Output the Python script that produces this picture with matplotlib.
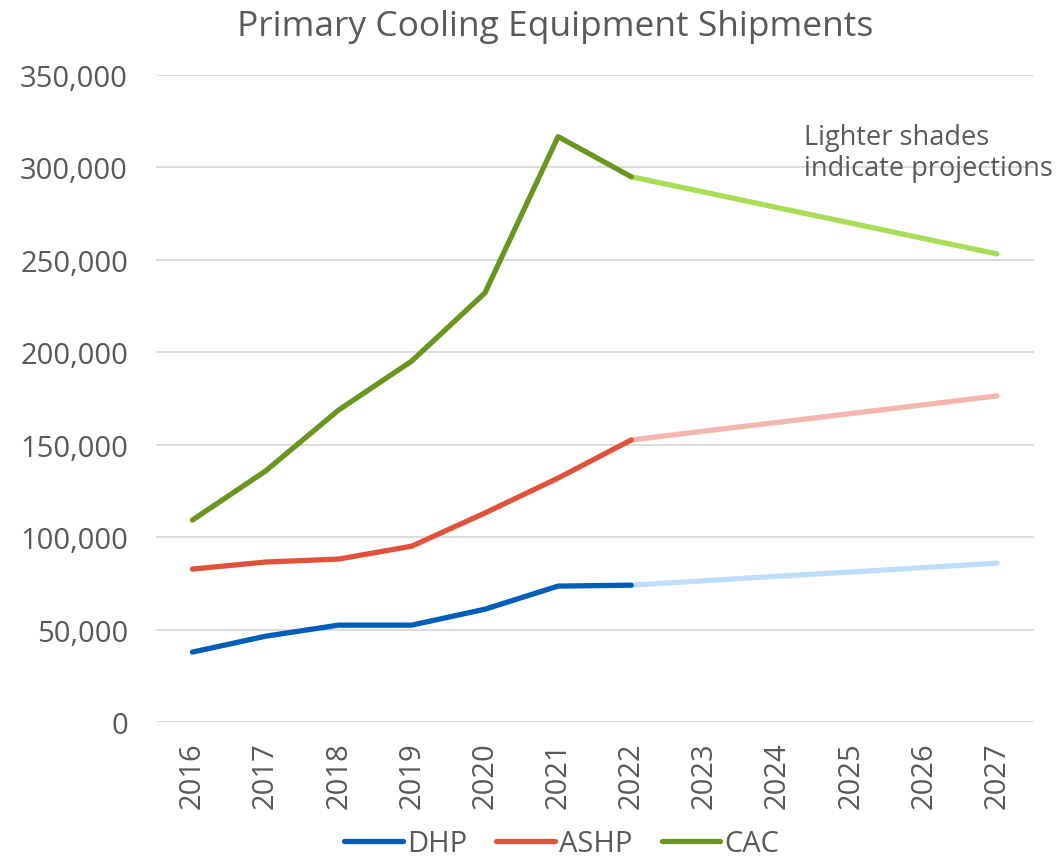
import matplotlib
matplotlib.use("Agg")
import matplotlib.pyplot as plt
from matplotlib.ticker import FuncFormatter

years = [2016, 2017, 2018, 2019, 2020, 2021, 2022, 2023, 2024, 2025, 2026, 2027]

dhp_actual = [37900, 46500, 52500, 52500, 61100, 73600, 74100]
ashp_actual = [82800, 86600, 88200, 95200, 113100, 132000, 152600]
cac_actual = [109300, 135800, 168800, 195300, 232100, 316600, 294900]

dhp_proj = [74100, 76500, 78900, 81200, 83600, 86000]
ashp_proj = [152600, 157400, 162100, 166900, 171600, 176400]
cac_proj = [294900, 286600, 278200, 269900, 261500, 253200]

series = ["DHP", "ASHP", "CAC"]
dark = ["#005EB8", "#E0533A", "#6A951F"]
light = ["#BEDDFB", "#F3B7AD", "#A9DD55"]

plt.rcParams['font.family'] = ['Open Sans', 'DejaVu Sans']
txt = "#595959"

fig = plt.figure(figsize=(10.6, 8.62), dpi=100)
ax = fig.add_axes([0.147, 0.161, 0.828, 0.751])

xs = list(range(len(years)))
ia = xs[:7]
ip = xs[6:]
lw = 3.8
for name, a, p, dc, lc in zip(series, [dhp_actual, ashp_actual, cac_actual],
                               [dhp_proj, ashp_proj, cac_proj], dark, light):
    ax.plot(ip, p, color=lc, lw=lw, solid_capstyle='round', solid_joinstyle='round', zorder=2)
    ax.plot(ia, a, color=dc, lw=lw, solid_capstyle='round', solid_joinstyle='round', zorder=3, label=name)

ax.set_xlim(-0.5, len(years) - 0.5)
ax.set_ylim(0, 350000)
ax.set_yticks(range(0, 350001, 50000))
ax.yaxis.set_major_formatter(FuncFormatter(lambda v, p: f"{int(v):,}"))
ax.set_xticks(xs)
ax.set_xticklabels([str(y) for y in years], rotation=90)
ax.grid(axis='y', color='#D9D9D9', lw=1.3)
ax.set_axisbelow(True)
for s in ax.spines.values():
    s.set_visible(False)
ax.tick_params(axis='both', length=0, colors=txt, labelsize=21)
ax.tick_params(axis='y', pad=20)
ax.tick_params(axis='x', pad=14)

fig.text(0.524, 0.969, "Primary Cooling Equipment Shipments", ha='center', va='center',
         fontsize=25.5, color=txt)

ax.text(0.738, 0.925, "Lighter shades\nindicate projections", transform=ax.transAxes,
        ha='left', va='top', fontsize=19.5, color=txt, linespacing=1.12)

leg = fig.legend(loc='center', bbox_to_anchor=(0.530, 0.020), ncol=3, frameon=False,
                 fontsize=21, handlelength=2.0, handletextpad=0.15, columnspacing=1.0,
                 borderpad=0.1)
for t in leg.get_texts():
    t.set_color(txt)

fig.savefig("out.png", dpi=100)
